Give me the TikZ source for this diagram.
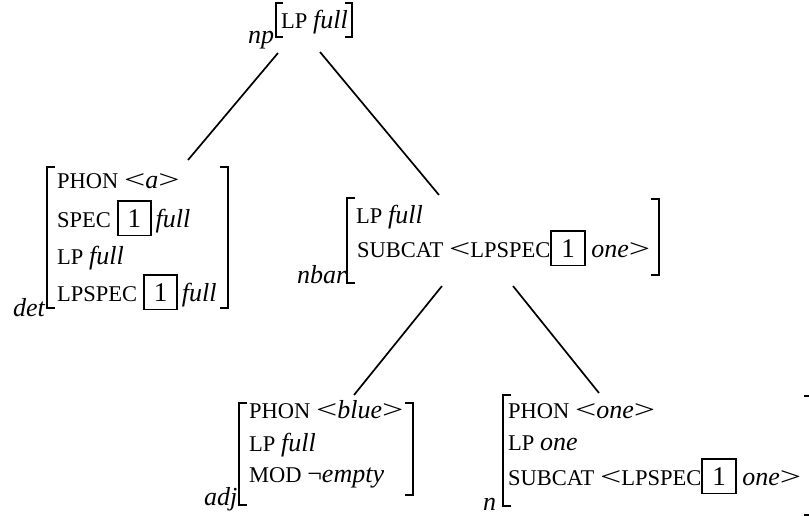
\documentclass[tikz,border=0pt]{standalone}
\usepackage{fontspec}
\usepackage{graphicx}
\setmainfont{Liberation Serif}
\newcommand\capsz{\fontsize{22.5}{26}\selectfont}
\newcommand\vl[1]{{\fontsize{26}{30}\selectfont\itshape #1}}
\newcommand\lt{{\fontsize{26}{30}\selectfont\scalebox{1.45}[1]{<}}}
\newcommand\gt{{\fontsize{26}{30}\selectfont\scalebox{1.45}[1]{>}}}
\newcommand\negsign{{\fontsize{26}{30}\selectfont ¬}}
\newcommand\tagone{{\setlength\fboxsep{7.5pt}\setlength\fboxrule{1.9pt}\fbox{\fontsize{27}{30}\selectfont\hspace{1.5pt}1\hspace{1.5pt}}}}
\tikzset{
  row/.style={anchor=base west, inner sep=0pt, font=\capsz},
  lbl/.style={anchor=base west, inner sep=0pt, font=\fontsize{26}{30}\selectfont\itshape},
  brk/.style={line width=2.2pt, line cap=butt, line join=miter},
  edge/.style={line width=1.7pt}
}
\begin{document}
\begin{tikzpicture}[x=1pt,y=-1pt]
\useasboundingbox (0,0) rectangle (809,515);
% np
\node[lbl] (np) at (248,43) {np};
\node[row] (np-1) at (281,28) {LP \vl{full}};
\draw[brk] (283,3) -- (276,3) -- (276,37) -- (283,37);
\draw[brk] (345,3) -- (352,3) -- (352,37) -- (345,37);
% det
\node[lbl] (det) at (13,316) {det};
\node[row] (det-1) at (57,188) {PHON \lt\vl{a}\gt};
\node[row] (det-2) at (57,227) {SPEC \tagone\,\vl{full}};
\node[row] (det-3) at (57,264) {LP \vl{full}};
\node[row] (det-4) at (57,301) {LPSPEC \tagone\,\vl{full}};
\draw[brk] (55,167) -- (47,167) -- (47,308) -- (55,308);
\draw[brk] (220,167) -- (228,167) -- (228,308) -- (220,308);
% nbar
\node[lbl] (nbar) at (297,283) {nbar};
\node[row] (nbar-1) at (356,223) {LP \vl{full}};
\node[row] (nbar-2) at (357,257) {SUBCAT \lt LPSPEC\tagone\ \vl{one}\gt};
\draw[brk] (355,198) -- (347,198) -- (347,283) -- (355,283);
\draw[brk] (651,199) -- (659,199) -- (659,275) -- (651,275);
% adj
\node[lbl] (adj) at (204,505) {adj};
\node[row] (adj-1) at (249,418) {PHON \lt\vl{blue}\gt};
\node[row] (adj-2) at (249,451) {LP \vl{full}};
\node[row] (adj-3) at (249,482) {MOD \negsign\vl{empty}};
\draw[brk] (247,403) -- (239,403) -- (239,505) -- (247,505);
\draw[brk] (405,403) -- (413,403) -- (413,495) -- (405,495);
% n
\node[lbl] (n) at (483,510) {n};
\node[row] (n-1) at (508,418) {PHON \lt\vl{one}\gt};
\node[row] (n-2) at (508,450) {LP \vl{one}};
\node[row] (n-3) at (508,485) {SUBCAT \lt LPSPEC\tagone\ \vl{one}\gt};
\draw[brk] (511,395) -- (503,395) -- (503,506) -- (511,506);
\draw[brk] (804,396) -- (812,396) -- (812,515) -- (804,515);
% connectors
\coordinate (np-l) at (278,53);
\coordinate (np-r) at (320,52);
\coordinate (det-t) at (188,160);
\coordinate (nbar-t) at (439,195);
\coordinate (nbar-l) at (442,286);
\coordinate (nbar-r) at (513,286);
\coordinate (adj-t) at (354,395);
\coordinate (n-t) at (599,393);
\draw[edge] (np-l) -- (det-t);
\draw[edge] (np-r) -- (nbar-t);
\draw[edge] (nbar-l) -- (adj-t);
\draw[edge] (nbar-r) -- (n-t);
\end{tikzpicture}
\end{document}
